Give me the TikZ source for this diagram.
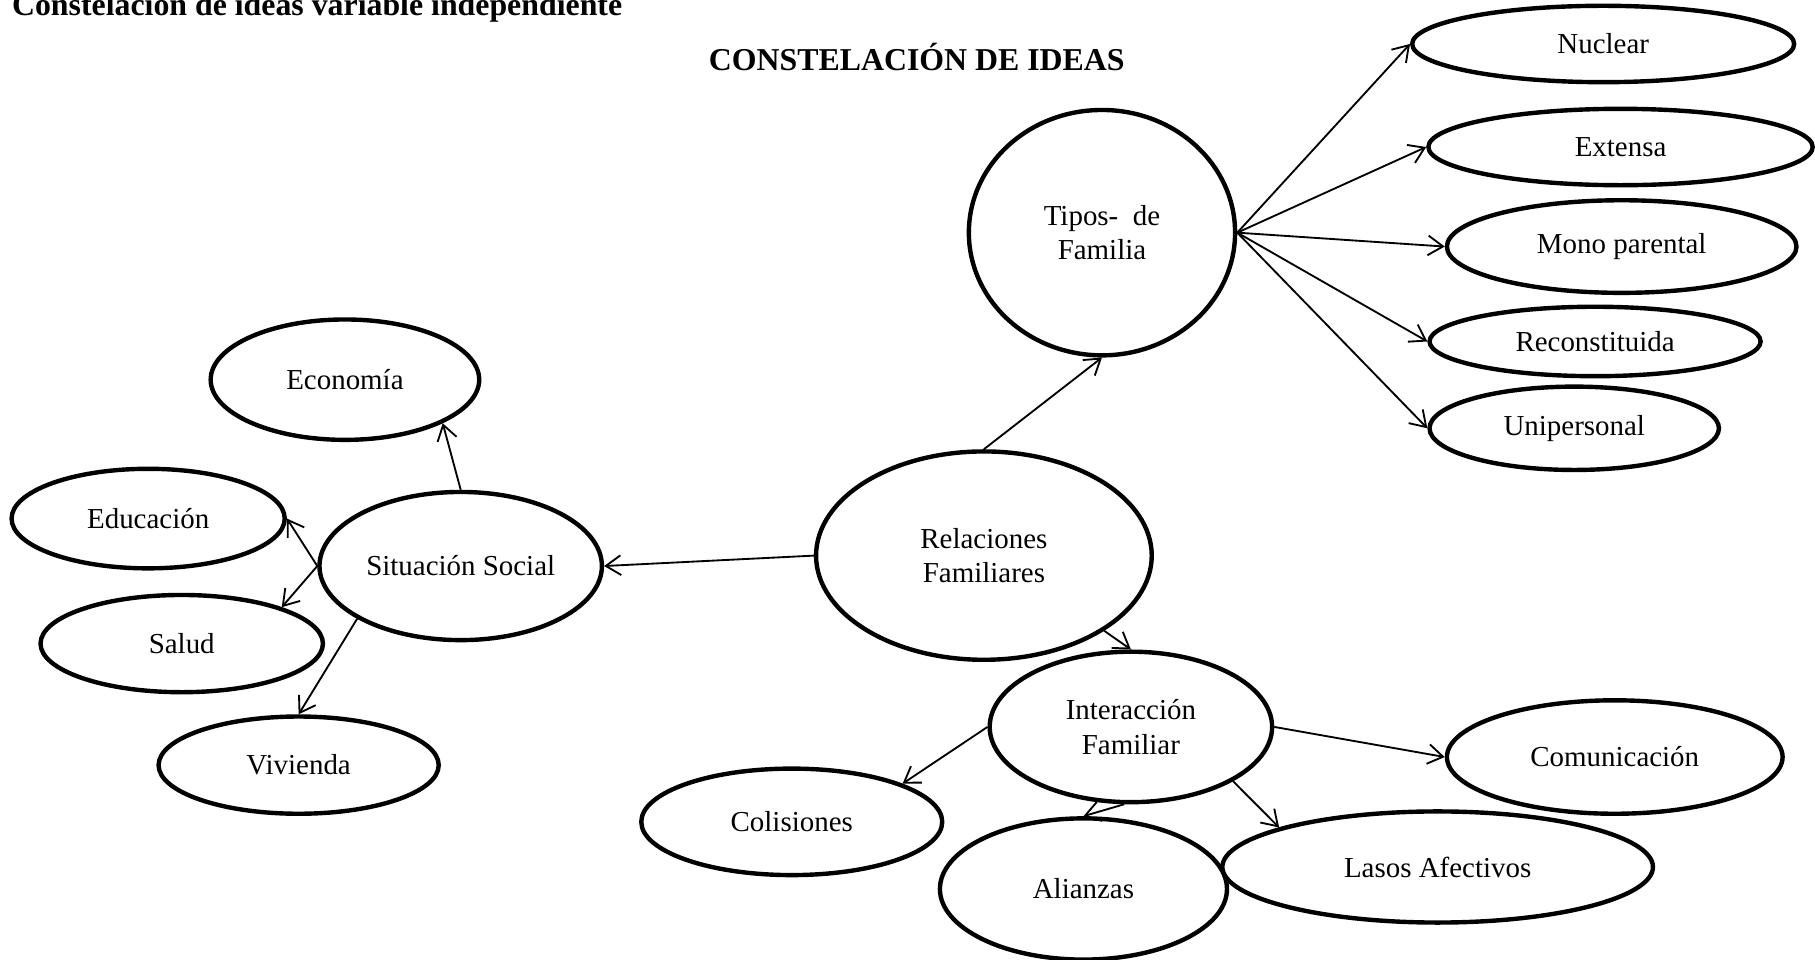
\documentclass[tikz,border=0pt]{standalone}
\usepackage{fontspec}
\setmainfont{Liberation Serif}
\usetikzlibrary{shapes.geometric,arrows.meta}
\tikzset{
  bub/.style={draw, ellipse, line width=1.9pt, inner sep=0pt,
    font=\fontsize{12.5}{15}\selectfont, align=center},
  sz/.style 2 args={minimum width=#1pt, minimum height=#2pt},
  conn/.style={line width=0.8pt, -{Straight Barb[length=6.5pt,width=8.5pt]}},
  heading/.style={inner sep=0pt, font=\fontsize{13.75}{16}\selectfont\bfseries}
}
\begin{document}
\begin{tikzpicture}[x=0.5pt,y=-0.5pt]
\useasboundingbox (0,0) rectangle (1568,829);
\fill[white] (0,0) rectangle (1568,829);

\node[heading, anchor=base west] (cap) at (10,13) {Constelación de ideas variable independiente};
\node[heading, anchor=base] (tit) at (792,61) {CONSTELACIÓN DE IDEAS};

\node[bub, sz={165}{33}] (nuc) at (1385,38) {Nuclear};
\node[bub, sz={166}{33}] (ext) at (1400,127) {Extensa};
\node[bub, sz={151}{40}] (mono) at (1401,213) {Mono parental};
\node[bub, sz={143}{30}] (rec) at (1378,295) {Reconstituida};
\node[bub, sz={125}{36}] (uni) at (1360,370) {Unipersonal};
\node[bub, sz={115}{106}] (tip) at (952,201) {Tipos-~ de\\Familia};
\node[bub, sz={116}{52}] (eco) at (298,328) {Economía};
\node[bub, sz={118}{43}] (edu) at (128,448) {Educación};
\node[bub, sz={122}{64}] (sit) at (398,489) {Situación Social};
\node[bub, sz={122}{42}] (sal) at (157,556) {Salud};
\node[bub, sz={121}{42}] (viv) at (258,661) {Vivienda};
\node[bub, sz={145}{90}] (rel) at (850,480) {Relaciones\\Familiares};
\node[bub, sz={122}{65}] (int) at (977,628) {Interacción\\Familiar};
\node[bub, sz={145}{49}] (com) at (1395,654) {Comunicación};
\node[bub, sz={130}{46}] (col) at (684,710) {Colisiones};
\node[bub, sz={124}{61}] (ali) at (936,768) {Alianzas};
\node[bub, sz={186}{48}] (las) at (1242,749) {Lasos Afectivos};

\draw[conn] (rel.north) -- (tip.south);
\draw[conn] (tip.east) -- (nuc.west);
\draw[conn] (tip.east) -- (ext.west);
\draw[conn] (tip.east) -- (mono.west);
\draw[conn] (tip.east) -- (rec.west);
\draw[conn] (tip.east) -- (uni.west);

\draw[conn] (rel.west) -- (sit.east);
\draw[conn] (sit.north) -- (eco.336);
\draw[conn] (sit.west) -- (edu.east);
\draw[conn] (sit.west) -- (sal.20);
\draw[conn] (sit.207) -- (viv.north);

\draw[conn] (rel.328) -- (int.north);
\draw[conn] (int.east) -- (com.west);
\draw[conn] (int.west) -- (col.19);
\draw[conn] (int.265) -- (ali.north);
\draw[conn] (int.332) -- (las.166);
\end{tikzpicture}
\end{document}
